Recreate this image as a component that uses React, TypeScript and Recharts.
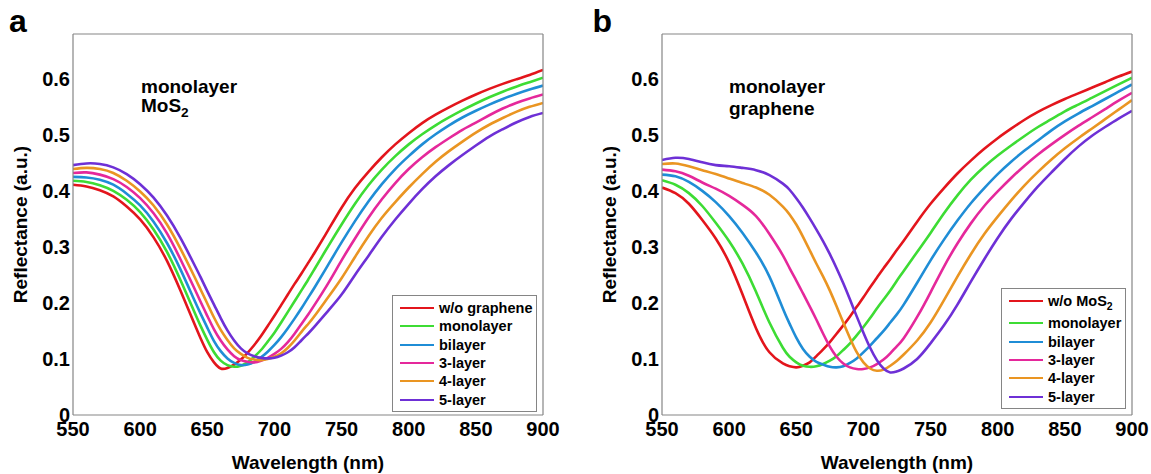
import React from "react";
import { LineChart, Line, XAxis, YAxis, Legend } from "recharts";

// sampling grid (nm) – finer around the reflectance minima
const wavelengths = [
  550, 560, 570, 580, 590, 600, 610, 620, 630, 640, 645, 650, 655, 660, 665, 670, 675, 680, 685, 690, 695, 700,
  705, 710, 715, 720, 725, 730, 740, 750, 760, 770, 780, 790, 800, 810, 820, 830, 840, 850, 860, 870, 880, 890, 900,
];
const xTicks = [550, 600, 650, 700, 750, 800, 850, 900];
const yTicks = [0, 0.1, 0.2, 0.3, 0.4, 0.5, 0.6];

// panel a: monolayer MoS2 with graphene layers on top
const aNoGraphene = [
  0.411, 0.408, 0.401, 0.39, 0.372, 0.349, 0.317, 0.275, 0.222, 0.165, 0.137, 0.112, 0.094, 0.083, 0.084, 0.09, 0.099,
  0.111, 0.125, 0.141, 0.159, 0.177, 0.196, 0.215, 0.234, 0.252, 0.271, 0.29, 0.33, 0.37, 0.405, 0.434, 0.46, 0.483,
  0.503, 0.521, 0.536, 0.549, 0.561, 0.572, 0.582, 0.591, 0.599, 0.607, 0.616,
];
const aMono = [
  0.418, 0.416, 0.41, 0.4, 0.384, 0.362, 0.331, 0.291, 0.241, 0.186, 0.159, 0.134, 0.112, 0.097, 0.089, 0.086, 0.088,
  0.094, 0.104, 0.116, 0.131, 0.147, 0.165, 0.184, 0.203, 0.222, 0.241, 0.261, 0.301, 0.34, 0.377, 0.41, 0.438, 0.462,
  0.483, 0.501, 0.517, 0.531, 0.544, 0.556, 0.567, 0.577, 0.586, 0.594, 0.602,
];
const aBi = [
  0.425, 0.424, 0.42, 0.411, 0.395, 0.374, 0.345, 0.307, 0.26, 0.207, 0.181, 0.156, 0.132, 0.114, 0.101, 0.093, 0.089,
  0.09, 0.095, 0.103, 0.113, 0.125, 0.139, 0.155, 0.172, 0.19, 0.209, 0.228, 0.268, 0.308, 0.346, 0.381, 0.412, 0.439,
  0.462, 0.483, 0.501, 0.517, 0.531, 0.543, 0.554, 0.564, 0.573, 0.581, 0.588,
];
const aTri = [
  0.432, 0.433, 0.429, 0.421, 0.407, 0.387, 0.36, 0.324, 0.278, 0.228, 0.202, 0.177, 0.153, 0.133, 0.117, 0.105,
  0.098, 0.095, 0.094, 0.097, 0.102, 0.109, 0.118, 0.13, 0.145, 0.162, 0.179, 0.197, 0.235, 0.276, 0.315, 0.352, 0.385,
  0.414, 0.439, 0.46, 0.478, 0.494, 0.509, 0.522, 0.535, 0.547, 0.557, 0.565, 0.572,
];
const aFour = [
  0.439, 0.441, 0.439, 0.432, 0.418, 0.399, 0.374, 0.34, 0.297, 0.249, 0.224, 0.199, 0.174, 0.152, 0.134, 0.119,
  0.109, 0.102, 0.099, 0.098, 0.1, 0.104, 0.11, 0.12, 0.133, 0.148, 0.162, 0.177, 0.21, 0.244, 0.282, 0.319, 0.352,
  0.38, 0.406, 0.43, 0.452, 0.471, 0.488, 0.504, 0.518, 0.53, 0.541, 0.55, 0.557,
];
const aFive = [
  0.446, 0.449, 0.448, 0.442, 0.43, 0.412, 0.388, 0.356, 0.316, 0.27, 0.246, 0.221, 0.197, 0.173, 0.151, 0.133, 0.119,
  0.11, 0.105, 0.102, 0.101, 0.102, 0.106, 0.112, 0.121, 0.133, 0.145, 0.158, 0.186, 0.215, 0.25, 0.284, 0.318, 0.349,
  0.377, 0.403, 0.426, 0.446, 0.464, 0.481, 0.497, 0.51, 0.522, 0.532, 0.539,
];

// panel b: monolayer graphene with MoS2 layers
const bNoMoS2 = [
  0.406, 0.396, 0.377, 0.348, 0.315, 0.272, 0.215, 0.155, 0.112, 0.092, 0.087, 0.085, 0.088, 0.094, 0.105, 0.117, 0.13,
  0.145, 0.16, 0.176, 0.193, 0.21, 0.228, 0.245, 0.262, 0.278, 0.295, 0.311, 0.345, 0.377, 0.405, 0.431, 0.454, 0.475,
  0.494, 0.511, 0.527, 0.541, 0.553, 0.564, 0.574, 0.584, 0.594, 0.604, 0.613,
];
const bMono = [
  0.419, 0.411, 0.396, 0.373, 0.343, 0.31, 0.27, 0.22, 0.165, 0.12, 0.104, 0.094, 0.088, 0.086, 0.087, 0.091, 0.097,
  0.105, 0.116, 0.128, 0.142, 0.157, 0.173, 0.19, 0.206, 0.222, 0.24, 0.257, 0.291, 0.325, 0.36, 0.392, 0.42, 0.443,
  0.463, 0.481, 0.498, 0.514, 0.528, 0.542, 0.554, 0.566, 0.578, 0.59, 0.602,
];
const bBi = [
  0.429, 0.426, 0.416, 0.4, 0.38, 0.355, 0.325, 0.29, 0.247, 0.19, 0.163, 0.138, 0.118, 0.104, 0.095, 0.09, 0.086,
  0.085, 0.087, 0.093, 0.101, 0.112, 0.124, 0.137, 0.15, 0.165, 0.18, 0.197, 0.236, 0.276, 0.313, 0.347, 0.378, 0.405,
  0.43, 0.452, 0.472, 0.49, 0.508, 0.524, 0.538, 0.551, 0.564, 0.577, 0.59,
];
const bTri = [
  0.438, 0.435, 0.427, 0.415, 0.404, 0.391, 0.375, 0.355, 0.323, 0.285, 0.262, 0.24, 0.217, 0.194, 0.17, 0.145, 0.122,
  0.104, 0.092, 0.085, 0.082, 0.082, 0.085, 0.091, 0.099, 0.11, 0.123, 0.137, 0.175, 0.219, 0.265, 0.306, 0.342, 0.373,
  0.399, 0.423, 0.445, 0.465, 0.483, 0.5, 0.516, 0.531, 0.546, 0.561, 0.575,
];
const bFour = [
  0.448, 0.449, 0.444, 0.437, 0.43, 0.422, 0.414, 0.406, 0.393, 0.372, 0.358, 0.34, 0.318, 0.294, 0.27, 0.247, 0.222,
  0.194, 0.165, 0.137, 0.112, 0.094, 0.083, 0.079, 0.081, 0.088, 0.097, 0.108, 0.133, 0.165, 0.205, 0.247, 0.287, 0.323,
  0.354, 0.383, 0.41, 0.434, 0.456, 0.476, 0.494, 0.511, 0.528, 0.545, 0.562,
];
const bFive = [
  0.455, 0.459, 0.457, 0.451, 0.446, 0.444, 0.441, 0.437, 0.428, 0.413, 0.402, 0.387, 0.37, 0.351, 0.331, 0.31, 0.287,
  0.262, 0.235, 0.206, 0.176, 0.147, 0.12, 0.098, 0.083, 0.076, 0.078, 0.083, 0.1, 0.128, 0.16, 0.197, 0.238, 0.278,
  0.316, 0.35, 0.38, 0.408, 0.433, 0.457, 0.479, 0.498, 0.514, 0.529, 0.543,
];

const namesA = ["w/o graphene", "monolayer", "bilayer", "3-layer", "4-layer", "5-layer"];
const namesB = ["w/o MoS2", "monolayer", "bilayer", "3-layer", "4-layer", "5-layer"];
const layerColors = ["#e3151c", "#3ddc34", "#1f8dd6", "#e5289b", "#ea9522", "#6e30d6"];

const FRAME = "#858585";
const FONT = "'Liberation Sans', Arial, Helvetica, sans-serif";

function toRows(series: number[][]) {
  return wavelengths.map((w, i) => {
    const row: Record<string, number> = { w };
    series.forEach((s, k) => {
      row[`s${k}`] = s[i];
    });
    return row;
  });
}

const rowsA = toRows([aNoGraphene, aMono, aBi, aTri, aFour, aFive]);
const rowsB = toRows([bNoMoS2, bMono, bBi, bTri, bFour, bFive]);

function XTick(props: any) {
  const { x, y, payload } = props;
  return (
    <text x={x} y={y} dy="0.72em" textAnchor="middle" fontSize={20} fontWeight="bold" fill="#000" fontFamily={FONT}>
      {payload.value}
    </text>
  );
}

function YTick(props: any) {
  const { x, y, payload } = props;
  return (
    <text x={x} y={y} dy="0.36em" textAnchor="end" fontSize={20} fontWeight="bold" fill="#000" fontFamily={FONT}>
      {payload.value}
    </text>
  );
}

function seriesName(name: string) {
  if (name.endsWith("MoS2")) {
    return (
      <>
        {name.slice(0, -1)}
        <sub style={{ fontSize: "0.72em", lineHeight: 0 }}>2</sub>
      </>
    );
  }
  return name;
}

function LegendBox({ payload, width, firstGap }: { payload?: any[]; width: number; firstGap: number }) {
  const items = [...(payload ?? [])].sort((p, q) => String(p.dataKey).localeCompare(String(q.dataKey)));
  return (
    <div
      style={{
        width,
        boxSizing: "border-box",
        border: `1px solid ${FRAME}`,
        background: "#fff",
        padding: "3px 0 2px 0",
        fontFamily: FONT,
        fontWeight: "bold",
        fontSize: 14.5,
        color: "#000",
      }}
    >
      {items.map((entry, i) => (
        <div
          key={entry.dataKey}
          style={{
            display: "flex",
            alignItems: "center",
            height: 18.3,
            marginBottom: i === 0 ? firstGap : 0,
            whiteSpace: "nowrap",
          }}
        >
          <span style={{ marginLeft: 7, width: 34, height: 0, borderTop: `2.6px solid ${entry.color}` }} />
          <span style={{ marginLeft: 5, lineHeight: "18px" }}>{seriesName(entry.value)}</span>
        </div>
      ))}
    </div>
  );
}

type PanelProps = {
  rows: Record<string, number>[];
  names: string[];
  width: number;
  yAxisWidth: number;
  rightMargin: number;
  legendLeft: number;
  legendTop: number;
  legendWidth: number;
  firstGap: number;
};

function Panel({ rows, names, width, yAxisWidth, rightMargin, legendLeft, legendTop, legendWidth, firstGap }: PanelProps) {
  const frameLine = { stroke: FRAME, strokeWidth: 1.2 };
  return (
    <LineChart width={width} height={474} data={rows} margin={{ top: 34, right: rightMargin, left: 0, bottom: 0 }}>
      <XAxis
        xAxisId="x"
        dataKey="w"
        type="number"
        domain={[550, 900]}
        allowDataOverflow
        ticks={xTicks}
        height={59}
        tickSize={0}
        tickMargin={7}
        tickLine={false}
        axisLine={frameLine}
        tick={<XTick />}
      />
      <XAxis
        xAxisId="xb"
        dataKey="w"
        type="number"
        domain={[550, 900]}
        allowDataOverflow
        ticks={xTicks}
        mirror
        tick={false}
        tickSize={6}
        tickLine={frameLine}
        axisLine={false}
      />
      <XAxis
        xAxisId="xt"
        dataKey="w"
        orientation="top"
        type="number"
        domain={[550, 900]}
        allowDataOverflow
        ticks={xTicks}
        mirror
        tick={false}
        tickSize={6}
        tickLine={frameLine}
        axisLine={frameLine}
      />
      <YAxis
        yAxisId="y"
        type="number"
        domain={[0, 0.68]}
        allowDataOverflow
        ticks={yTicks}
        width={yAxisWidth}
        tickSize={0}
        tickMargin={3}
        tickLine={false}
        axisLine={frameLine}
        tick={<YTick />}
      />
      <YAxis
        yAxisId="yl"
        type="number"
        domain={[0, 0.68]}
        allowDataOverflow
        ticks={yTicks}
        mirror
        tick={false}
        tickSize={6}
        tickLine={frameLine}
        axisLine={false}
      />
      <YAxis
        yAxisId="yr"
        orientation="right"
        type="number"
        domain={[0, 0.68]}
        allowDataOverflow
        ticks={yTicks}
        mirror
        tick={false}
        tickSize={6}
        tickLine={frameLine}
        axisLine={frameLine}
      />
      {names.map((name, k) => (
        <Line
          key={name + k}
          xAxisId="x"
          yAxisId="y"
          type="natural"
          dataKey={`s${k}`}
          name={name}
          stroke={layerColors[k]}
          strokeWidth={2.6}
          dot={false}
          activeDot={false}
          isAnimationActive={false}
        />
      ))}
      <Legend
        layout="vertical"
        align="center"
        verticalAlign="middle"
        itemSorter="dataKey"
        wrapperStyle={{ left: legendLeft, top: legendTop, width: legendWidth, height: "auto", right: "auto", bottom: "auto" }}
        content={(props: any) => <LegendBox payload={props.payload} width={legendWidth} firstGap={firstGap} />}
      />
    </LineChart>
  );
}

const textBase: React.CSSProperties = {
  position: "absolute",
  fontFamily: FONT,
  fontWeight: "bold",
  color: "#000",
  whiteSpace: "nowrap",
};

export default function App() {
  return (
    <div style={{ position: "absolute", left: 0, top: 0, width: 1151, height: 474, background: "#fff", overflow: "hidden" }}>
      <div style={{ position: "absolute", left: 0, top: 0 }}>
        <Panel
          rows={rowsA}
          names={namesA}
          width={560}
          yAxisWidth={73}
          rightMargin={17}
          legendLeft={392}
          legendTop={295}
          legendWidth={145}
          firstGap={0}
        />
      </div>
      <div style={{ position: "absolute", left: 580, top: 0 }}>
        <Panel
          rows={rowsB}
          names={namesB}
          width={571}
          yAxisWidth={82}
          rightMargin={19}
          legendLeft={421}
          legendTop={288}
          legendWidth={125}
          firstGap={4}
        />
      </div>

      {/* panel letters */}
      <div style={{ ...textBase, left: 9, top: 4.6, fontSize: 32, lineHeight: "32px" }}>a</div>
      <div style={{ ...textBase, left: 592.5, top: 4.6, fontSize: 32, lineHeight: "32px" }}>b</div>

      {/* in-plot annotations */}
      <div style={{ ...textBase, left: 141, top: 77.2, fontSize: 19, lineHeight: "19px" }}>monolayer</div>
      <div style={{ ...textBase, left: 141, top: 96.4, fontSize: 19, lineHeight: "19px" }}>
        MoS<sub style={{ fontSize: "0.72em", lineHeight: 0 }}>2</sub>
      </div>
      <div style={{ ...textBase, left: 729, top: 77.2, fontSize: 19, lineHeight: "19px" }}>monolayer</div>
      <div style={{ ...textBase, left: 729, top: 98.9, fontSize: 19, lineHeight: "19px" }}>graphene</div>

      {/* axis titles */}
      <div style={{ ...textBase, left: 73, top: 452.9, width: 470, textAlign: "center", fontSize: 19, lineHeight: "19px" }}>
        Wavelength (nm)
      </div>
      <div style={{ ...textBase, left: 662, top: 452.9, width: 470, textAlign: "center", fontSize: 19, lineHeight: "19px" }}>
        Wavelength (nm)
      </div>
      <div
        style={{
          ...textBase,
          left: 20.4 - 190.5,
          top: 224.5 - 9.5,
          width: 381,
          height: 19,
          textAlign: "center",
          fontSize: 19,
          lineHeight: "19px",
          transform: "rotate(-90deg)",
          transformOrigin: "center",
        }}
      >
        Reflectance (a.u.)
      </div>
      <div
        style={{
          ...textBase,
          left: 609.8 - 190.5,
          top: 224.5 - 9.5,
          width: 381,
          height: 19,
          textAlign: "center",
          fontSize: 19,
          lineHeight: "19px",
          transform: "rotate(-90deg)",
          transformOrigin: "center",
        }}
      >
        Reflectance (a.u.)
      </div>
    </div>
  );
}
